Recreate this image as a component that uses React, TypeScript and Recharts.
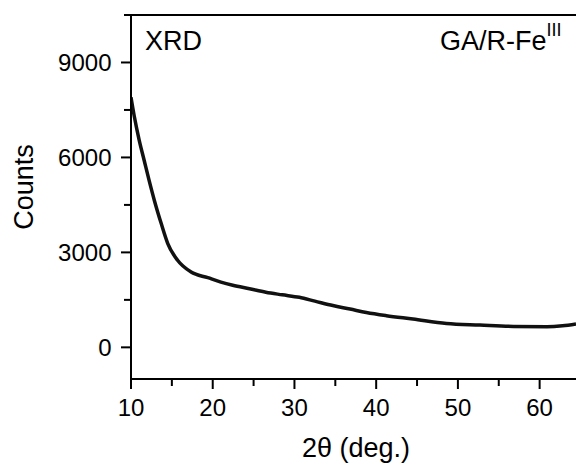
import React from 'react';
import { LineChart, Line, XAxis, YAxis, Label } from 'recharts';

// 2θ (deg.) positions
const twoTheta = [10.0, 10.4, 11.0, 11.6, 12.2, 12.85, 13.7, 14.5, 15.7, 17.35, 19.4, 21.0, 22.45, 24.5, 26.5, 28.5, 30.6, 32.5, 34.7, 36.8, 38.8, 41.25, 44.5, 48.6, 52.7, 56.8, 60.9, 62.8, 64.45];
// Counts
const counts = [7900, 7300, 6550, 5920, 5290, 4650, 3910, 3280, 2750, 2380, 2200, 2060, 1960, 1850, 1740, 1660, 1580, 1460, 1320, 1210, 1100, 1000, 895, 756, 705, 660, 650, 680, 740];

const xMajorTicks = [10, 20, 30, 40, 50, 60];
const xAllTicks = [10, 15, 20, 25, 30, 35, 40, 45, 50, 55, 60];
const yMajorTicks = [0, 3000, 6000, 9000];
const yAllTicks = [0, 1500, 3000, 4500, 6000, 7500, 9000, 10500];

const xDomain = [10, 64.45];
const yDomain = [-1000, 10500];

const data = twoTheta.map((t, i) => ({ t, c: counts[i] }));

const FONT = '"Liberation Sans", Arial, Helvetica, sans-serif';

const XTick = (props: any) => {
  const { x, y, payload } = props;
  const axisY = y - 10;
  const major = xMajorTicks.includes(payload.value);
  return (
    <g>
      <line x1={x} x2={x} y1={axisY} y2={axisY + (major ? 10 : 7)} stroke="#000" strokeWidth={2} />
      {major && (
        <text x={x} y={axisY + 37} textAnchor="middle" fontSize={24} fontFamily={FONT} fill="#000">
          {payload.value}
        </text>
      )}
    </g>
  );
};

const YTick = (props: any) => {
  const { x, y, payload } = props;
  const axisX = x + 10;
  const major = yMajorTicks.includes(payload.value);
  return (
    <g>
      <line x1={axisX - (major ? 10 : 7)} x2={axisX} y1={y} y2={y} stroke="#000" strokeWidth={2} />
      {major && (
        <text x={axisX - 19.5} y={y + 9} textAnchor="end" fontSize={24} fontFamily={FONT} fill="#000">
          {payload.value}
        </text>
      )}
    </g>
  );
};

export default function App() {
  return (
    <div style={{ position: 'absolute', left: 0, top: 0, width: 576, height: 465, background: '#fff' }}>
      <LineChart width={576} height={465} data={data} margin={{ top: 15, right: 0, bottom: 0, left: 0 }}>
        <XAxis
          dataKey="t"
          type="number"
          domain={xDomain}
          allowDataOverflow
          ticks={xAllTicks}
          interval={0}
          tickSize={10}
          tickMargin={0}
          tickLine={false}
          tick={<XTick />}
          height={86}
          axisLine={{ stroke: '#000', strokeWidth: 2 }}
        >
          <Label
            content={() => (
              <text x={356} y={457} textAnchor="middle" fontSize={27} fontFamily={FONT} fill="#000">
                2θ (deg.)
              </text>
            )}
          />
        </XAxis>
        <YAxis
          type="number"
          domain={yDomain}
          allowDataOverflow
          ticks={yAllTicks}
          interval={0}
          tickSize={10}
          tickMargin={0}
          tickLine={false}
          tick={<YTick />}
          width={131}
          axisLine={{ stroke: '#000', strokeWidth: 2 }}
        >
          <Label
            content={() => (
              <g>
                <text
                  x={33}
                  y={187}
                  textAnchor="middle"
                  fontSize={27}
                  fontFamily={FONT}
                  fill="#000"
                  transform="rotate(-90 33 187)"
                >
                  Counts
                </text>
                <line x1={130} x2={576} y1={15} y2={15} stroke="#000" strokeWidth={2} />
                <text x={145} y={50} fontSize={27} fontFamily={FONT} fill="#000">XRD</text>
                <text x={440} y={50} fontSize={27} fontFamily={FONT} fill="#000">
                  GA/R-Fe
                  <tspan fontSize={18} dy={-14}>III</tspan>
                </text>
              </g>
            )}
          />
        </YAxis>
        <Line
          dataKey="c"
          type="monotone"
          stroke="#111"
          strokeWidth={3.5}
          dot={false}
          isAnimationActive={false}
        />
      </LineChart>
    </div>
  );
}
